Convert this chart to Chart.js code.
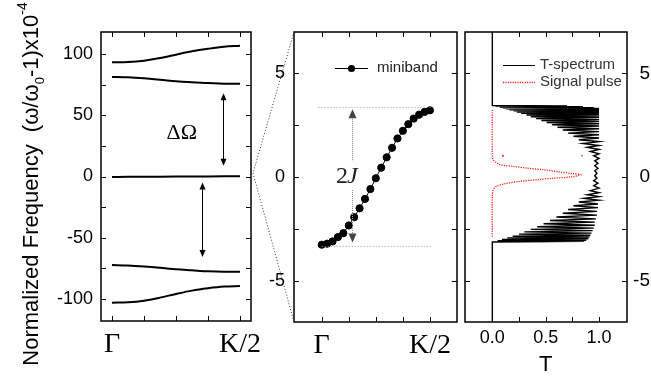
<!DOCTYPE html>
<html>
<head>
<meta charset="utf-8">
<script src="https://cdn.jsdelivr.net/npm/chart.js@4.4.1/dist/chart.umd.min.js"></script>
<style>
    html, body { margin: 0; padding: 0; background: #fff; }
    #wrap { position: relative; width: 651px; height: 377px; }
    #wrap canvas { position: absolute; left: 0; top: 0; }
</style>
</head>
<body>
<div id="wrap">
    <canvas id="bands" width="651" height="377"></canvas>
    <canvas id="mini" width="651" height="377"></canvas>
    <canvas id="tspec" width="651" height="377"></canvas>
</div>
<script>
const $ = id => document.getElementById(id);
const SANS = "'Liberation Sans', Arial, sans-serif";
const SERIF = "'Liberation Serif', 'Times New Roman', serif";

// ---- left panel: band structure (x10^-4) ----
const bandK = [0, 0.125, 0.25, 0.375, 0.5, 0.625, 0.75, 0.875, 1];
const band1 = [93.2, 93.5, 94.6, 96.7, 99.5, 102.2, 104.3, 106.0, 106.8];
const band2 = [81.3, 81.0, 80.2, 79.1, 77.7, 76.9, 76.4, 75.8, 75.8];
const band3 = [-0.4, -0.3, -0.3, -0.2, -0.1, 0, 0.1, 0.2, 0.3];
const band4 = [-72.3, -72.6, -73.4, -74.5, -75.8, -76.6, -77.4, -77.7, -77.7];
const band5 = [-103.0, -102.7, -101.4, -98.9, -95.9, -93.2, -91.3, -89.9, -89.4];
const freqTicks = [-100, -75, -50, -25, 0, 25, 50, 75, 100];
const freqLabels = [-100, -50, 0, 50, 100];
const kTicks = [0, 0.25, 0.5, 0.75, 1];
const kNamed = [0, 1];
const kNames = ['Γ', 'K/2'];
// gap arrows: [k, from, to]
const gapArrows = [[0.865, 68, 8.7], [0.70, -4.9, -65.8]];
const gapLabel = [0.545, 35];

// ---- middle panel: miniband ----
const miniK = [0, 0.05, 0.1, 0.15, 0.2, 0.25, 0.3, 0.35, 0.4, 0.45, 0.5,
               0.55, 0.6, 0.65, 0.7, 0.75, 0.8, 0.85, 0.9, 0.95, 1];
const miniband = [-3.27, -3.22, -3.11, -2.90, -2.71, -2.34, -1.94, -1.51, -1.06, -0.58, -0.06,
                  0.45, 0.95, 1.41, 1.86, 2.23, 2.55, 2.82, 3.01, 3.14, 3.22];
const edgeTop = 3.36, edgeBot = -3.35;
const edgeTopK = [-0.03, 1.02], edgeBotK = [0.0, 1.02];
const jArrow = [0.28, 3.27, -3.16];
const zoomTicks = [-5, -2.5, 0, 2.5, 5];
const zoomLabels = [-5, 0, 5];

// ---- right panel: transmission (zig-zag of fringe minima / maxima) ----
const tSpecT = [0, 0,
    0.7, 0.03, 0.85, 0.07, 0.95, 0.10, 1.0, 0.13, 1.0, 0.16, 1.0, 0.20, 1.0, 0.23, 1.0, 0.27,
    1.0, 0.32, 1.0, 0.36, 1.0, 0.41, 1.0, 0.46, 1.0, 0.51, 1.0, 0.56, 1.0, 0.61, 1.0, 0.66,
    1.0, 0.71, 1.0, 0.76, 1.0, 0.81, 1.0, 0.85, 1.0, 0.89, 1.0, 0.92, 1.0, 0.95,
    1.0, 0.96, 0.99, 0.96, 0.99, 0.96, 0.98, 0.96, 0.98, 0.95, 0.99, 0.95, 1.0, 0.92,
    1.0, 0.89, 1.0, 0.86, 1.0, 0.81, 0.99, 0.76, 0.99, 0.71, 0.98, 0.66, 0.98, 0.60,
    0.97, 0.54, 0.96, 0.48, 0.96, 0.42, 0.95, 0.36, 0.94, 0.30, 0.93, 0.25, 0.92, 0.19,
    0.91, 0.14, 0.90, 0.09, 0.88, 0.05, 0.86, 0, 0];
const tSpecY = [7, 3.45,
    3.43, 3.41, 3.39, 3.37, 3.35, 3.33, 3.31, 3.29, 3.27, 3.25, 3.22, 3.19, 3.16, 3.13, 3.10, 3.07,
    3.03, 2.99, 2.95, 2.91, 2.87, 2.82, 2.77, 2.73, 2.68, 2.63, 2.57, 2.52, 2.46, 2.40, 2.33, 2.27,
    2.19, 2.12, 2.04, 1.97, 1.88, 1.80, 1.71, 1.62, 1.52, 1.43, 1.33, 1.23, 1.12, 1.02,
    0.90, 0.78, 0.66, 0.54, 0.42, 0.30, 0.18, 0.06, -0.06, -0.18, -0.30, -0.42, -0.54, -0.66,
    -0.76, -0.86, -0.95, -1.03, -1.12, -1.21, -1.30, -1.39, -1.48, -1.57, -1.66, -1.75, -1.84, -1.93,
    -2.02, -2.10, -2.18, -2.26, -2.33, -2.40, -2.47, -2.53, -2.59, -2.65, -2.71, -2.76, -2.81, -2.86,
    -2.90, -2.94, -2.98, -3.02, -3.05, -3.08, -3.11, -3.14, -7];
const pulseT = [0, 0, 0.01, 0.07, 0.2, 0.32, 0.48, 0.63, 0.76, 0.83,
                0.73, 0.57, 0.42, 0.26, 0.10, 0.04, 0.01, 0, 0];
const pulseY = [3.24, 1.06, 0.82, 0.60, 0.51, 0.43, 0.35, 0.24, 0.16, 0.11,
                0.0, -0.06, -0.13, -0.21, -0.34, -0.45, -0.61, -0.93, -2.94];
const strayRed = [0.1, 1.02], strayGray = [0.84, 1.02];
const tTicks = [0, 0.25, 0.5, 0.75, 1];
const tLabels = [0, 0.5, 1];

const pts = (xs, ys) => xs.map((x, i) => ({x, y: ys[i]}));

// draw inward ticks on all four sides plus the frame
const frame = {
    id: 'frame',
    afterDraw(chart) {
        const {ctx, chartArea: a} = chart;
        const x = chart.scales.x, y = chart.scales.y;
        ctx.save();
        ctx.strokeStyle = '#000';
        ctx.lineWidth = 1;
        ctx.beginPath();
        x.ticks.forEach(t => {
            const p = Math.round(x.getPixelForValue(t.value)) + 0.5;
            ctx.moveTo(p, a.bottom); ctx.lineTo(p, a.bottom - 5);
            ctx.moveTo(p, a.top); ctx.lineTo(p, a.top + 5);
        });
        y.ticks.forEach(t => {
            const p = Math.round(y.getPixelForValue(t.value)) + 0.5;
            ctx.moveTo(a.left, p); ctx.lineTo(a.left + 5, p);
            ctx.moveTo(a.right, p); ctx.lineTo(a.right - 5, p);
        });
        ctx.stroke();
        ctx.lineWidth = 1.5;
        ctx.strokeRect(a.left, a.top, a.right - a.left, a.bottom - a.top);
        ctx.restore();
    }
};
Chart.register(frame);

const axis = (min, max, ticks, named, fmt, font, pad, size, more) => Object.assign({
    type: 'linear', min, max,
    afterBuildTicks: s => { s.ticks = ticks.map(v => ({value: v})); },
    afterFit: s => { if (s.isHorizontal()) s.height = size; else s.width = size; },
    grid: {display: false, drawTicks: false},
    border: {display: false},
    ticks: {
        autoSkip: false, maxRotation: 0, minRotation: 0, padding: pad, color: '#000', font,
        callback: v => named.includes(v) ? fmt(v) : ''
    }
}, more || {});

const head = (ctx, x, y, dir, len, w) => {
    ctx.beginPath();
    ctx.moveTo(x, y);
    ctx.lineTo(x - w, y - dir * len);
    ctx.lineTo(x + w, y - dir * len);
    ctx.closePath();
    ctx.fill();
};

const base = (padding, scales) => ({
    responsive: false,
    animation: false,
    layout: {padding},
    plugins: {legend: {display: false}, tooltip: {enabled: false}},
    scales
});

// ---------- left panel ----------
const bandSet = ys => ({
    data: pts(bandK, ys), showLine: true, borderColor: '#000', borderWidth: 2,
    pointRadius: 0, tension: 0.4, cubicInterpolationMode: 'monotone'
});
const bandsChart = new Chart($('bands').getContext('2d'), {
    type: 'scatter',
    data: {datasets: [band1, band2, band3, band4, band5].map(bandSet)},
    options: base({left: 56, right: 400, top: 32, bottom: 16}, {
        x: axis(-0.086, 1.086, kTicks, kNamed, v => kNames[kNamed.indexOf(v)],
            {family: SERIF, size: 28}, 7, 40),
        y: axis(-118, 118, freqTicks, freqLabels, v => String(v),
            {family: SANS, size: 18}, 8, 45)
    }),
    plugins: [{
        id: 'gaps',
        afterDraw(chart) {
            const {ctx, scales: {x, y}} = chart;
            ctx.save();
            ctx.strokeStyle = '#000';
            ctx.fillStyle = '#000';
            ctx.lineWidth = 1;
            gapArrows.forEach(([k, a, b]) => {
                const px = Math.round(x.getPixelForValue(k)) + 0.5;
                const ya = y.getPixelForValue(a), yb = y.getPixelForValue(b);
                ctx.beginPath();
                ctx.moveTo(px, ya + 5); ctx.lineTo(px, yb - 5);
                ctx.stroke();
                head(ctx, px, ya, -1, 7, 3);
                head(ctx, px, yb, 1, 7, 3);
            });
            ctx.font = `22px ${SERIF}`;
            ctx.textAlign = 'center';
            ctx.textBaseline = 'middle';
            ctx.fillText('ΔΩ', x.getPixelForValue(gapLabel[0]), y.getPixelForValue(gapLabel[1]));

            // rotated axis title with sub/superscript
            const parts = [
                ['Normalized Frequency  (ω/ω', 22, 0],
                ['0', 13, 6],
                ['-1)x10', 22, 0],
                ['-4', 14, -11]
            ];
            let total = 0;
            parts.forEach(p => { ctx.font = `${p[1]}px ${SANS}`; p.push(ctx.measureText(p[0]).width); total += p[3]; });
            ctx.translate(38, 184);
            ctx.rotate(-Math.PI / 2);
            ctx.textAlign = 'left';
            ctx.textBaseline = 'alphabetic';
            let cx = -total / 2;
            parts.forEach(p => {
                ctx.font = `${p[1]}px ${SANS}`;
                ctx.fillText(p[0], cx, p[2]);
                cx += p[3];
            });
            ctx.restore();
        }
    }]
});

// ---------- middle panel ----------
new Chart($('mini').getContext('2d'), {
    type: 'scatter',
    data: {
        datasets: [
            {data: pts(edgeTopK, [edgeTop, edgeTop]), showLine: true, borderColor: '#9a9a9a',
             borderWidth: 1, borderDash: [1, 2], pointRadius: 0},
            {data: pts(edgeBotK, [edgeBot, edgeBot]), showLine: true, borderColor: '#9a9a9a',
             borderWidth: 1, borderDash: [1, 2], pointRadius: 0},
            {label: 'miniband', data: pts(miniK, miniband), showLine: true, borderColor: '#000',
             borderWidth: 1, pointRadius: 3.6, pointBackgroundColor: '#000', pointBorderColor: '#000'}
        ]
    },
    options: base({left: 254, right: 194, top: 32, bottom: 15}, {
        x: axis(-0.256, 1.25, kTicks, kNamed, v => kNames[kNamed.indexOf(v)],
            {family: SERIF, size: 28}, 7, 40),
        y: axis(-7, 7, zoomTicks, zoomLabels, v => String(v),
            {family: SANS, size: 18}, 9, 40)
    }),
    plugins: [{
        id: 'miniExtras',
        afterDraw(chart) {
            const {ctx, chartArea: a, scales: {x, y}} = chart;
            ctx.save();
            // dotted zoom lines from the left panel's central band
            const bx = bandsChart.chartArea.right + 2;
            const by = bandsChart.scales.y.getPixelForValue(band3[band3.length - 1]) - 3;
            ctx.strokeStyle = '#333';
            ctx.lineWidth = 1;
            ctx.setLineDash([1, 2]);
            ctx.beginPath();
            ctx.moveTo(a.left, a.top); ctx.lineTo(bx, by); ctx.lineTo(a.left, a.bottom);
            ctx.stroke();

            // 2J arrow
            const px = Math.round(x.getPixelForValue(jArrow[0])) + 0.5;
            const yt = y.getPixelForValue(jArrow[1]), yb = y.getPixelForValue(jArrow[2]);
            const yc = y.getPixelForValue(0);
            ctx.strokeStyle = '#888';
            ctx.setLineDash([1, 1]);
            ctx.beginPath();
            ctx.moveTo(px, yt + 8); ctx.lineTo(px, yc - 16);
            ctx.moveTo(px, yc + 13); ctx.lineTo(px, yb - 8);
            ctx.stroke();
            ctx.setLineDash([]);
            ctx.fillStyle = '#444';
            head(ctx, px, yt, -1, 9, 4);
            head(ctx, px, yb, 1, 9, 4);

            ctx.fillStyle = '#222';
            ctx.textBaseline = 'middle';
            ctx.textAlign = 'left';
            const lx = x.getPixelForValue(jArrow[0]) - 16;
            ctx.font = `24px ${SERIF}`;
            ctx.fillText('2', lx, yc);
            const w2 = ctx.measureText('2').width;
            ctx.font = `italic 24px ${SERIF}`;
            ctx.fillText('J', lx + w2 - 1, yc);

            // legend
            const ds = chart.data.datasets[2];
            const ly = a.top + 36;
            ctx.strokeStyle = '#000';
            ctx.lineWidth = 1;
            ctx.beginPath();
            ctx.moveTo(a.left + 41, ly + 0.5); ctx.lineTo(a.left + 74, ly + 0.5);
            ctx.stroke();
            ctx.fillStyle = '#000';
            ctx.beginPath();
            ctx.arc(a.left + 57.5, ly + 0.5, 3.6, 0, Math.PI * 2);
            ctx.fill();
            ctx.fillStyle = '#222';
            ctx.font = `15px ${SANS}`;
            ctx.fillText(ds.label, a.left + 83, ly);
            ctx.restore();
        }
    }]
});

// ---------- right panel ----------
const tAxisY = axis(-7, 7, zoomTicks, zoomLabels, v => String(v),
    {family: SANS, size: 19}, 0, 23, {position: 'right'});
tAxisY.ticks.crossAlign = 'far';  // labels flush with the figure edge

new Chart($('tspec').getContext('2d'), {
    type: 'scatter',
    data: {
        datasets: [
            {label: 'T-spectrum', data: pts(tSpecT, tSpecY), showLine: true, borderColor: '#000',
             borderWidth: 1.4, pointRadius: 0, tension: 0},
            {label: 'Signal pulse', data: pts(pulseT, pulseY), showLine: true, borderColor: '#ff1a1a',
             borderWidth: 1.3, borderDash: [1.2, 1.2], pointRadius: 0, tension: 0.3},
            {data: [{x: strayRed[0], y: strayRed[1]}], pointRadius: 1, pointBackgroundColor: '#ff1a1a',
             pointBorderWidth: 0},
            {data: [{x: strayGray[0], y: strayGray[1]}], pointRadius: 1, pointBackgroundColor: '#888',
             pointBorderWidth: 0}
        ]
    },
    options: base({left: 465, right: 1, top: 32, bottom: 15}, {
        x: axis(-0.256, 1.262, tTicks, tLabels, v => v.toFixed(1),
            {family: SANS, size: 18}, 5, 40),
        y: tAxisY
    }),
    plugins: [{
        id: 'tExtras',
        afterDraw(chart) {
            const {ctx, chartArea: a, scales: {x}} = chart;
            ctx.save();
            const [spec, pulse] = chart.data.datasets;
            const lx = a.left + 38, rx = a.left + 70;
            ctx.lineWidth = 1;
            ctx.strokeStyle = spec.borderColor;
            ctx.beginPath();
            ctx.moveTo(lx, a.top + 33.5); ctx.lineTo(rx, a.top + 33.5);
            ctx.stroke();
            ctx.strokeStyle = pulse.borderColor;
            ctx.lineWidth = 1.3;
            ctx.setLineDash([1.2, 1.2]);
            ctx.beginPath();
            ctx.moveTo(lx, a.top + 50.5); ctx.lineTo(rx, a.top + 50.5);
            ctx.stroke();
            ctx.setLineDash([]);
            ctx.fillStyle = '#333';
            ctx.font = `15px ${SANS}`;
            ctx.textBaseline = 'middle';
            ctx.fillText(spec.label, a.left + 75, a.top + 33);
            ctx.fillText(pulse.label, a.left + 75, a.top + 50);

            ctx.fillStyle = '#000';
            ctx.font = `22px ${SANS}`;
            ctx.textAlign = 'center';
            ctx.fillText('T', x.getPixelForValue(0.5), 365);
            ctx.restore();
        }
    }]
});
</script>
</body>
</html>
